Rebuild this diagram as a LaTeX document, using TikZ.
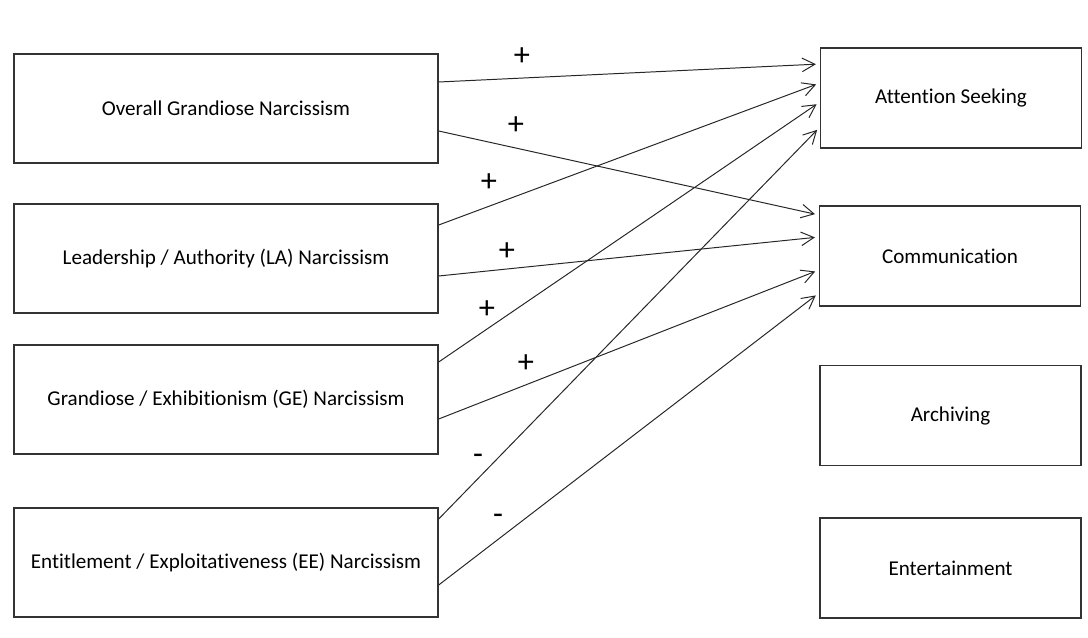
\documentclass[tikz,border=0pt]{standalone}
\usepackage{fontspec}
\setmainfont{Carlito}[Ligatures=NoCommon]
\usetikzlibrary{calc,arrows.meta}

\tikzstyle{every node}=[font=\fontsize{15}{17}\selectfont]
\tikzstyle{trait}=[draw=black!80,line width=0.9pt,minimum width=10.6cm,minimum height=2.72cm,inner sep=0pt]
\tikzstyle{use}=[draw=black!80,line width=0.9pt,minimum width=6.52cm,minimum height=2.5cm,inner sep=0pt]
\tikzstyle{link}=[draw=black!85,line width=0.7pt,shorten >=0.1cm,-{Straight Barb[length=3.2mm,width=3.4mm,line width=0.7pt]}]
\tikzstyle{sign}=[font=\fontsize{23}{25}\selectfont,inner sep=0pt]

\begin{document}
\begin{tikzpicture}[x=0.025cm, y=-0.025cm]
	\useasboundingbox (0,0) rectangle (1088,638);
	%traits
	\node[trait] (overall) at (226,108.5) {Overall Grandiose Narcissism};
	\node[trait] (leader) at (226,258.5) {Leadership / Authority (LA) Narcissism};
	\node[trait] (grandiose) at (226,399.5) {Grandiose / Exhibitionism (GE) Narcissism};
	\node[trait] (entitle) at (226,562.5) {Entitlement / Exploitativeness (EE) Narcissism};
	%uses
	\node[use] (attention) at (951,98) {Attention Seeking};
	\node[use] (communic) at (950,256) {Communication};
	\node[use] (archiv) at (950.5,415.5) {Archiving};
	\node[use] (entertain) at (950.5,568) {Entertainment};
	%links
	\draw[link] ($(overall.east)+(0,-26.5)$) -- ($(attention.west)+(0,-34)$);
	\draw[link] ($(overall.east)+(0,22.5)$) -- ($(communic.west)+(0,-41)$);
	\draw[link] ($(leader.east)+(0,-33.5)$) -- ($(attention.west)+(0,-15)$);
	\draw[link] ($(leader.east)+(0,17.5)$) -- ($(communic.west)+(0,-19)$);
	\draw[link] ($(grandiose.east)+(0,-37.5)$) -- ($(attention.west)+(0,4)$);
	\draw[link] ($(grandiose.east)+(0,19.5)$) -- ($(communic.west)+(0,14)$);
	\draw[link] ($(entitle.east)+(0,-43.5)$) -- ($(attention.west)+(0,29)$);
	\draw[link] ($(entitle.east)+(0,22.5)$) -- ($(communic.west)+(0,37)$);
	%signs
	\node[sign] (s1) at (522,57) {+};
	\node[sign] (s2) at (516,126) {+};
	\node[sign] (s3) at (489,183) {+};
	\node[sign] (s4) at (507,252) {+};
	\node[sign] (s5) at (487,310) {+};
	\node[sign] (s6) at (526,364) {+};
	\node[sign] (s7) at (478,459) {-};
	\node[sign] (s8) at (498,519) {-};
\end{tikzpicture}
\end{document}
